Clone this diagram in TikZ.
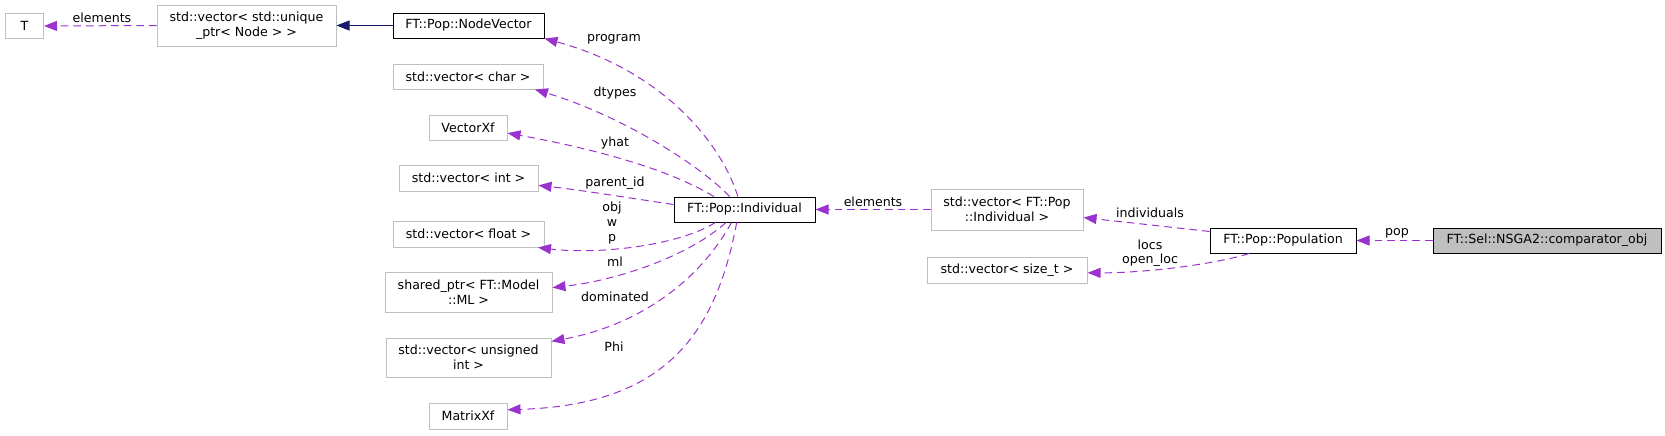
\documentclass[tikz,border=0pt]{standalone}
\usepackage{fontspec}
\setmainfont{DejaVu Sans}
\usetikzlibrary{arrows.meta,calc,positioning}
\definecolor{grey75}{HTML}{BFBFBF}
\definecolor{orchid}{HTML}{9A32CD}
\definecolor{mnblue}{HTML}{191970}
\tikzset{ext/.style={draw=grey75,line width=0.5pt,inner sep=0pt,align=center,minimum height=12.5pt,font=\fontsize{6.3}{7.3}\selectfont},
  doc/.style={ext,draw=black},
  uses/.style={-{Triangle[length=6.5pt,width=5pt]},orchid,line width=0.5pt,dash pattern=on 3.8pt off 2.5pt},
  inherit/.style={-{Triangle[length=6.5pt,width=5pt]},mnblue,line width=0.5pt},
  lbl/.style={inner sep=0pt,align=center,font=\fontsize{6.3}{7.3}\selectfont}}

\begin{document}
\begin{tikzpicture}[x=0.5pt,y=-0.5pt]
% 1 unit = 1 px of the 1665 x 435 graph, y grows downwards
\useasboundingbox (0,0) rectangle (1665,435);
\node[ext,minimum width=19pt] (T) at (24.5,26) {T};
\node[ext,minimum width=89.5pt,minimum height=20.5pt] (uptr) at (246.5,25.5) {std::vector< std::unique\\\_ptr< Node > >};
\node[doc,minimum width=75.5pt] (nodevec) at (468.5,25.5) {FT::Pop::NodeVector};
\node[ext,minimum width=75pt] (vchar) at (468,76.5) {std::vector< char >};
\node[ext,minimum width=39pt] (vecxf) at (468,127.5) {VectorXf};
\node[ext,minimum width=69.5pt,minimum height=13pt] (vint) at (468.5,178) {std::vector< int >};
\node[ext,minimum width=75.5pt,minimum height=13pt] (vfloat) at (468.5,234) {std::vector< float >};
\node[ext,minimum width=83.5pt,minimum height=20pt] (shptr) at (468.5,292) {shared\_ptr< FT::Model\\::ML >};
\node[ext,minimum width=82.5pt,minimum height=19.5pt] (vuns) at (468.5,357.5) {std::vector< unsigned\\int >};
\node[ext,minimum width=39pt,minimum height=13pt] (matxf) at (468,416) {MatrixXf};
\node[doc,minimum width=70.5pt] (indiv) at (744.5,209.5) {FT::Pop::Individual};
\node[ext,minimum width=76pt,minimum height=20.5pt] (vind) at (1007,209.5) {std::vector< FT::Pop\\::Individual >};
\node[ext,minimum width=80pt,minimum height=13pt] (vsize) at (1007,270) {std::vector< size\_t >};
\node[doc,minimum width=73pt] (popul) at (1283,240.5) {FT::Pop::Population};
\node[doc,fill=grey75,minimum width=114pt] (cmpobj) at (1547,240.5) {FT::Sel::NSGA2::comparator\_obj};

\draw[uses] (uptr.west) -- (T.east);
\draw[inherit] (nodevec.west) -- (uptr.east);
\draw[uses] (indiv.117) .. controls (720,140) and (660,70) .. (nodevec.south east);
\draw[uses] (indiv.139) .. controls (700,165) and (620,115) .. (vchar.-11);
\draw[uses] (indiv.157) .. controls (670,170) and (600,150) .. (vecxf.-8);
\draw[uses] (indiv.176) .. controls (630,198) and (580,190) .. (vint.-6);
\draw[uses] (indiv.204) .. controls (680,245) and (600,255) .. (vfloat.-11);
\draw[uses] (indiv.215) .. controls (690,255) and (620,280) .. (shptr.3);
\draw[uses] (indiv.225) .. controls (700,280) and (640,325) .. (vuns.11);
\draw[uses] (indiv.239) .. controls (715,340) and (660,405) .. (matxf.9);
\draw[uses] (vind.west) -- (indiv.east);
\draw[uses] (popul.173) -- (vind.-6);
\draw[uses] (popul.201) .. controls (1220,263) and (1150,273) .. (vsize.-2);
\draw[uses] (cmpobj.west) -- (popul.east);

\node[lbl] (lelem) at (102,18) {elements};
\node[lbl] (lprog) at (614,39) {program};
\node[lbl] (ldtyp) at (615,93) {dtypes};
\node[lbl] (lyhat) at (615,143) {yhat};
\node[lbl] (lpid) at (615,183) {parent\_id};
\node[lbl] (lobj) at (612,223) {obj\\w\\p};
\node[lbl] (lml) at (615,262) {ml};
\node[lbl] (ldom) at (615,297) {dominated};
\node[lbl] (lphi) at (614,347) {Phi};
\node[lbl] (lelem2) at (873,202) {elements};
\node[lbl] (lindv) at (1150,213) {individuals};
\node[lbl] (llocs) at (1150,253) {locs\\open\_loc};
\node[lbl] (lpop) at (1397,233) {pop};
\end{tikzpicture}
\end{document}
